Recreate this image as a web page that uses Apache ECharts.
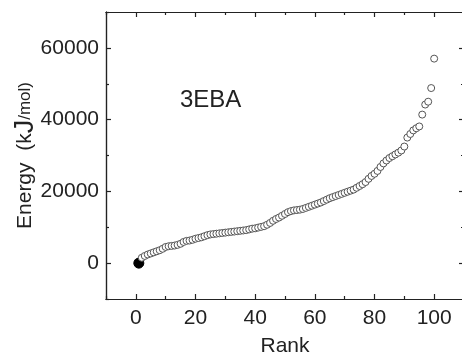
<!DOCTYPE html>
<html lang="en">
<head>
  <meta charset="UTF-8">
  <title>3EBA energy rank</title>
  <script src="https://cdn.jsdelivr.net/npm/echarts@6/dist/echarts.min.js"></script>
  <style>
    html, body { margin: 0; padding: 0; background: #fff; }
    #chart { width: 462px; height: 354px; }
  </style>
</head>
<body>
<div id="chart"></div>
<script>
  // rank 1..100, energy in kJ/mol
  const ranks = [];
  for (let i = 1; i <= 100; i++) ranks.push(i);

  const energy = [
    0, 1500, 2000, 2400, 2700, 3000, 3300, 3600, 4000, 4500,
    4700, 4800, 4900, 5100, 5400, 5900, 6200, 6300, 6500, 6800,
    7000, 7200, 7500, 7800, 8000, 8100, 8200, 8300, 8400, 8500,
    8600, 8700, 8800, 8900, 9000, 9100, 9200, 9400, 9600, 9700,
    9900, 10100, 10300, 10700, 11200, 11800, 12300, 12700, 13200, 13700,
    14200, 14500, 14700, 14800, 14900, 15100, 15400, 15700, 16000, 16300,
    16600, 16900, 17300, 17700, 18100, 18400, 18700, 19000, 19300, 19600,
    19900, 20200, 20500, 21000, 21500, 22000, 22600, 23500, 24300, 24900,
    25700, 26800, 27800, 28600, 29300, 29800, 30300, 30800, 31400, 32500,
    35000, 36000, 37000, 37600, 38100, 41400, 44200, 45000, 48800, 57000
  ];

  // ticks
  const xMajor = [0, 20, 40, 60, 80, 100];
  const xMinor = [-10, 10, 30, 50, 70, 90, 110];
  const yMajor = [0, 20000, 40000, 60000];
  const yMinor = [-10000, 10000, 30000, 50000, 70000];

  const font = 'Liberation Sans, Arial, sans-serif';
  const ink = '#222';

  function xAxis(pos, ticks, len, labels) {
    return {
      type: 'value', position: pos, min: -10, max: 110, interval: 10,
      axisLine: { show: true, onZero: false, lineStyle: { color: ink, width: 1.2 } },
      axisTick: { show: true, inside: true, length: len, customValues: ticks, lineStyle: { color: ink, width: 1.2 } },
      axisLabel: labels ? {
        show: true, customValues: xMajor, margin: 9, color: ink, fontSize: 21, fontFamily: font,
        formatter: v => String(v)
      } : { show: false },
      splitLine: { show: false }
    };
  }

  function yAxis(pos, ticks, len, labels) {
    return {
      type: 'value', position: pos, min: -10000, max: 70000, interval: 10000,
      axisLine: { show: true, onZero: false, lineStyle: { color: ink, width: 1.2 } },
      axisTick: { show: true, inside: true, length: len, customValues: ticks, lineStyle: { color: ink, width: 1.2 } },
      axisLabel: labels ? {
        show: true, customValues: yMajor, margin: 7, color: ink, fontSize: 21, fontFamily: font,
        formatter: v => String(v)
      } : { show: false },
      splitLine: { show: false }
    };
  }

  const xs = [
    xAxis('bottom', xMajor, 5, true),
    xAxis('bottom', xMinor, 3, false),
    xAxis('top', xMajor, 5, false),
    xAxis('top', xMinor, 3, false)
  ];
  xs[0].name = 'Rank';
  xs[0].nameLocation = 'middle';
  xs[0].nameGap = 37;
  xs[0].nameMoveOverlap = false;
  xs[0].nameTextStyle = { color: ink, fontSize: 21, fontFamily: font };

  const ys = [
    yAxis('left', yMajor, 5, true),
    yAxis('left', yMinor, 3, false),
    yAxis('right', yMajor, 5, false),
    yAxis('right', yMinor, 3, false)
  ];
  ys[0].name = '{a|Energy  (k}{b|J}{c|/mol)}';
  ys[0].nameLocation = 'middle';
  ys[0].nameGap = 67;
  ys[0].nameMoveOverlap = false;
  ys[0].nameTextStyle = {
    color: ink, fontFamily: font,
    rich: {
      a: { fontSize: 21, fontFamily: font, color: ink },
      b: { fontSize: 27, fontFamily: font, color: ink },
      c: { fontSize: 17, fontFamily: font, color: ink }
    }
  };

  const points = ranks.map((r, i) => {
    const p = { value: [r, energy[i]] };
    if (i === 0) {
      p.symbolSize = 10;
      p.itemStyle = { color: '#000', borderColor: '#000' };
    }
    return p;
  });

  const chart = echarts.init(document.getElementById('chart'), null, { renderer: 'canvas' });
  chart.setOption({
    animation: false,
    backgroundColor: '#fff',
    grid: { left: 106, top: 12, right: -2, bottom: 55, outerBoundsMode: 'none', containLabel: false },
    xAxis: xs,
    yAxis: ys,
    graphic: [{
      type: 'text', left: 180, top: 88,
      style: { text: '3EBA', fontSize: 24, fontFamily: font, fill: ink }
    }],
    series: [{
      type: 'scatter',
      xAxisIndex: 0, yAxisIndex: 0,
      symbol: 'circle',
      symbolSize: 7,
      itemStyle: { color: '#fff', borderColor: '#555', borderWidth: 1, opacity: 1 },
      data: points
    }]
  });
</script>
</body>
</html>
